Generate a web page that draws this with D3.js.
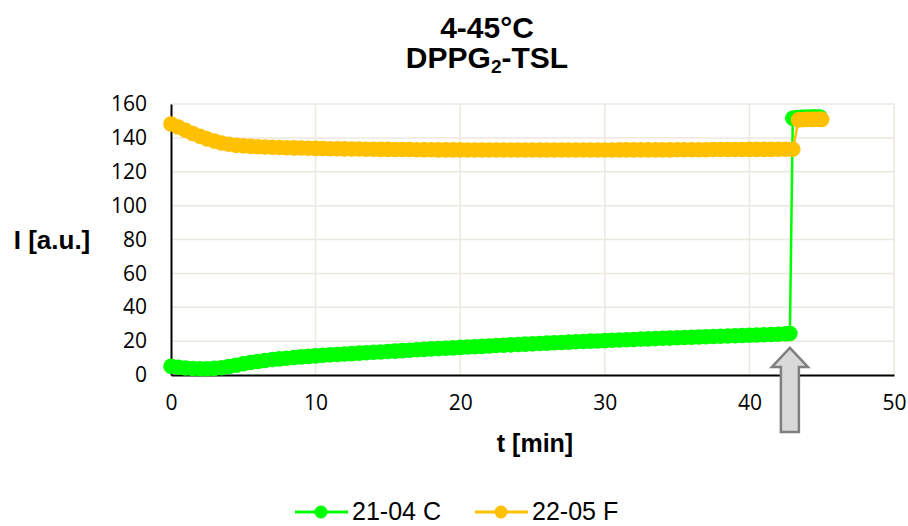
<!DOCTYPE html>
<html>
<head>
<meta charset="utf-8">
<script src="https://cdn.jsdelivr.net/npm/d3@7"></script>
<style>
  html, body { margin: 0; padding: 0; background: #fff; }
  svg { display: block; }
</style>
</head>
<body>
<svg id="chart" width="908" height="526"></svg>
<script>
// Sampling times (min) shared by both runs during the 4 °C phase
const timeLow = [
  0, 0.5, 1, 1.5, 2, 2.5, 3, 3.5, 4, 4.5, 5, 5.5, 6, 6.5, 7, 7.5, 8, 8.5, 9, 9.5,
  10, 10.5, 11, 11.5, 12, 12.5, 13, 13.5, 14, 14.5, 15, 15.5, 16, 16.5, 17, 17.5, 18, 18.5, 19, 19.5,
  20, 20.5, 21, 21.5, 22, 22.5, 23, 23.5, 24, 24.5, 25, 25.5, 26, 26.5, 27, 27.5, 28, 28.5, 29, 29.5,
  30, 30.5, 31, 31.5, 32, 32.5, 33, 33.5, 34, 34.5, 35, 35.5, 36, 36.5, 37, 37.5, 38, 38.5, 39, 39.5,
  40, 40.5, 41, 41.5, 42, 42.5
];

// 21-04 C
const timeC = timeLow.concat([42.8, 43.0, 43.3, 43.6, 43.9, 44.2, 44.5, 44.8, 44.9]);
const intensityC = [
  5.2, 4.6, 4.1, 3.8, 3.7, 3.7, 3.9, 4.3, 5.0, 5.8, 6.6, 7.4, 8.0, 8.6, 9.1, 9.5, 9.9, 10.3, 10.7, 11.0,
  11.3, 11.6, 11.9, 12.1, 12.4, 12.6, 12.9, 13.1, 13.4, 13.6, 13.9, 14.1, 14.4, 14.6, 14.9, 15.1, 15.4, 15.6, 15.8, 16.0,
  16.3, 16.5, 16.7, 16.9, 17.1, 17.4, 17.6, 17.8, 18.0, 18.2, 18.4, 18.6, 18.8, 19.0, 19.2, 19.4, 19.6, 19.8, 20.0, 20.1,
  20.3, 20.5, 20.7, 20.8, 21.0, 21.2, 21.3, 21.5, 21.7, 21.8, 22.0, 22.1, 22.3, 22.4, 22.6, 22.7, 22.9, 23.0, 23.2, 23.3,
  23.5, 23.6, 23.8, 23.9, 24.1, 24.3,
  24.5, 151.6, 152.0, 152.2, 152.3, 152.3, 152.4, 152.3, 152.2
];

// 22-05 F
const timeF = timeLow.concat([43.0, 43.4, 43.7, 44.0, 44.3, 44.6, 44.9, 45.0]);
const intensityF = [
  148.2, 146.4, 144.5, 142.6, 140.9, 139.4, 138.1, 137.0, 136.2, 135.6, 135.3, 135.0, 134.8, 134.6, 134.5, 134.3, 134.2, 134.1, 134.0, 133.9,
  133.8, 133.7, 133.6, 133.6, 133.5, 133.4, 133.4, 133.3, 133.3, 133.2, 133.2, 133.1, 133.1, 133.1, 133.0, 133.0, 133.0, 132.9, 132.9, 132.9,
  132.9, 132.8, 132.8, 132.8, 132.8, 132.8, 132.8, 132.8, 132.8, 132.8, 132.8, 132.8, 132.8, 132.8, 132.8, 132.8, 132.8, 132.8, 132.8, 132.8,
  132.8, 132.8, 132.9, 132.9, 132.9, 132.9, 132.9, 132.9, 132.9, 132.9, 133.0, 133.0, 133.0, 133.0, 133.0, 133.1, 133.1, 133.1, 133.1, 133.1,
  133.2, 133.2, 133.2, 133.2, 133.3, 133.3,
  133.3, 150.6, 150.8, 150.9, 150.9, 151.0, 150.9, 150.9
];

const seriesNames = ["21-04 C", "22-05 F"];
const seriesColors = ["#00ff00", "#ffc000"];
const xTicks = [0, 10, 20, 30, 40, 50];
const yTicks = [0, 20, 40, 60, 80, 100, 120, 140, 160];
const titleLines = ["4-45°C", "DPPG", "2", "-TSL"];
const xLabel = "t [min]";
const yLabel = "I [a.u.]";
// time at which the heating step is marked
const markTime = 42.8;
const markValue = 16;

const svg = d3.select("#chart");
const x = d3.scaleLinear().domain([0, 50]).range([171, 894]);
const y = d3.scaleLinear().domain([0, 160]).range([375, 104]);

const tickFont = "'Open Sans', sans-serif";
const boldFont = "'Liberation Sans', Arial, sans-serif";

// gridlines
const grid = svg.append("g").attr("stroke", "#ebe8df").attr("stroke-width", 1.5);
grid.selectAll("line.h").data(yTicks.filter(d => d > 0)).join("line")
  .attr("x1", x(0)).attr("x2", x(50)).attr("y1", d => y(d)).attr("y2", d => y(d));
grid.selectAll("line.v").data(xTicks.filter(d => d > 0)).join("line")
  .attr("x1", d => x(d)).attr("x2", d => x(d)).attr("y1", y(0)).attr("y2", y(160));

// axes
const xAxis = svg.append("g").attr("transform", `translate(0,${y(0)})`)
  .call(d3.axisBottom(x).tickValues(xTicks).tickSize(0).tickPadding(20));
const yAxis = svg.append("g").attr("transform", `translate(${x(0)},0)`)
  .call(d3.axisLeft(y).tickValues(yTicks).tickSize(0).tickPadding(24));
[xAxis, yAxis].forEach(a => {
  a.select(".domain").attr("stroke", "#000").attr("stroke-width", 2);
  a.selectAll("text").attr("font-family", tickFont).attr("font-size", 21).attr("fill", "#000");
});

// series
const series = [
  { t: timeC, v: intensityC, color: seriesColors[0] },
  { t: timeF, v: intensityF, color: seriesColors[1] }
];
const line = d3.line().x(d => x(d[0])).y(d => y(d[1]));
series.forEach(s => {
  const pts = s.t.map((t, i) => [t, s.v[i]]);
  const g = svg.append("g");
  g.append("path").datum(pts).attr("d", line)
    .attr("fill", "none").attr("stroke", s.color).attr("stroke-width", 2.5);
  g.selectAll("circle").data(pts).join("circle")
    .attr("cx", d => x(d[0])).attr("cy", d => y(d[1])).attr("r", 7.8)
    .attr("fill", s.color);
});

// arrow marking the temperature jump
const ax = x(markTime), ay = y(markValue);
const arrowPts = [
  [0, 0], [18, 19], [9, 19], [9, 84], [-9, 84], [-9, 19], [-18, 19]
];
svg.append("polygon")
  .attr("points", arrowPts.map(p => [ax + p[0], ay + p[1]].join(",")).join(" "))
  .attr("fill", "#d9d9d9").attr("stroke", "#7f7f7f").attr("stroke-width", 2.5)
  .attr("stroke-linejoin", "miter");

// title
const title = svg.append("text").attr("text-anchor", "middle")
  .attr("font-family", boldFont).attr("font-weight", "bold").attr("font-size", 30).attr("fill", "#000");
title.append("tspan").attr("x", 487).attr("y", 38).text(titleLines[0]);
const l2 = title.append("tspan").attr("x", 487).attr("y", 68);
l2.append("tspan").text(titleLines[1]);
l2.append("tspan").attr("font-size", 19).attr("dy", 5).text(titleLines[2]);
l2.append("tspan").attr("dy", -5).text(titleLines[3]);

// axis titles
svg.append("text").attr("x", 535).attr("y", 452).attr("text-anchor", "middle")
  .attr("font-family", boldFont).attr("font-weight", "bold").attr("font-size", 25).text(xLabel);
svg.append("text").attr("x", 52).attr("y", 249).attr("text-anchor", "middle")
  .attr("font-family", boldFont).attr("font-weight", "bold").attr("font-size", 26).text(yLabel);

// legend
const legendX = [295, 475];
seriesNames.forEach((name, i) => {
  const g = svg.append("g").attr("transform", `translate(${legendX[i]},512)`);
  g.append("line").attr("x1", 0).attr("x2", 53).attr("stroke", seriesColors[i]).attr("stroke-width", 3);
  g.append("circle").attr("cx", 26).attr("r", 6.5).attr("fill", seriesColors[i]);
  g.append("text").attr("x", 57).attr("y", 8).attr("font-family", boldFont)
    .attr("font-size", 25).attr("fill", "#000").text(name);
});
</script>
</body>
</html>
